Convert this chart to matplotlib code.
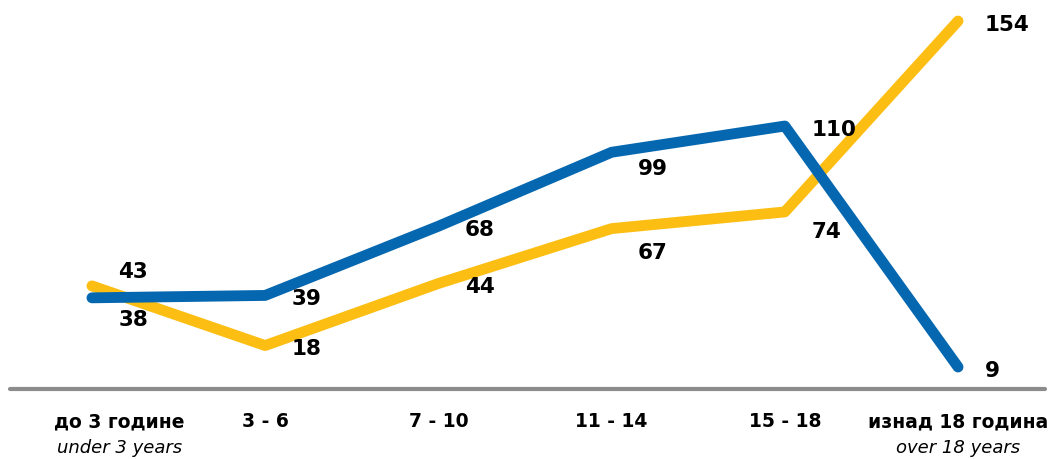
import matplotlib.pyplot as plt
from matplotlib.transforms import ScaledTranslation

# Data
categories_mk = ['до 3 године', '3 - 6', '7 - 10', '11 - 14', '15 - 18', 'изнад 18 година']
categories_en = ['under 3 years', '', '', '', '', 'over 18 years']
yellow_vals = [43, 18, 44, 67, 74, 154]
blue_vals = [38, 39, 68, 99, 110, 9]

# vertical label offsets in points (positive = up)
yellow_dy = [11, -2, -2, -17, -14, -2]
blue_dy = [-15, -2, -2, -11, -2, -2]

blue = '#0467b0'
yellow = '#fdbe14'
font = 'DejaVu Sans'

fig = plt.figure(figsize=(10.54, 4.6), dpi=100)
left_px, right_px = 10, 1045
ax = fig.add_axes([left_px / 1054, (460 - 389.5) / 460, (right_px - left_px) / 1054, (389.5 - 7.7) / 460])

x = list(range(len(categories_mk)))
ax.plot(x, yellow_vals, color=yellow, lw=7.8, solid_capstyle='round', solid_joinstyle='round', zorder=2)
ax.plot(x, blue_vals, color=blue, lw=7.8, solid_capstyle='round', solid_joinstyle='round', zorder=3)

ax.set_xlim(-0.473, 5.502)
ax.set_ylim(0, 160)
ax.axhline(0, color='#8c8c8c', lw=3, solid_capstyle='round', clip_on=False)

for xi, v, dy in zip(x, yellow_vals, yellow_dy):
    ax.annotate(str(v), (xi, v), xytext=(19, dy), textcoords='offset points',
                ha='left', va='center', fontsize=15.5, fontweight='bold', family=font)
for xi, v, dy in zip(x, blue_vals, blue_dy):
    ax.annotate(str(v), (xi, v), xytext=(19, dy), textcoords='offset points',
                ha='left', va='center', fontsize=15.5, fontweight='bold', family=font)

# category labels
for i, (mk, en) in enumerate(zip(categories_mk, categories_en)):
    xoff = 20 if i == 0 else 0
    tr = ax.get_xaxis_transform() + ScaledTranslation(xoff / 72, 0, fig.dpi_scale_trans)
    ax.text(i, -0.085, mk, transform=tr, ha='center', va='center',
            fontsize=13.5, fontweight='bold', family=font)
    if en:
        ax.text(i, -0.152, en, transform=tr, ha='center', va='center',
                fontsize=13, style='italic', family=font)

ax.axis('off')
fig.savefig('out.png', dpi=100)
